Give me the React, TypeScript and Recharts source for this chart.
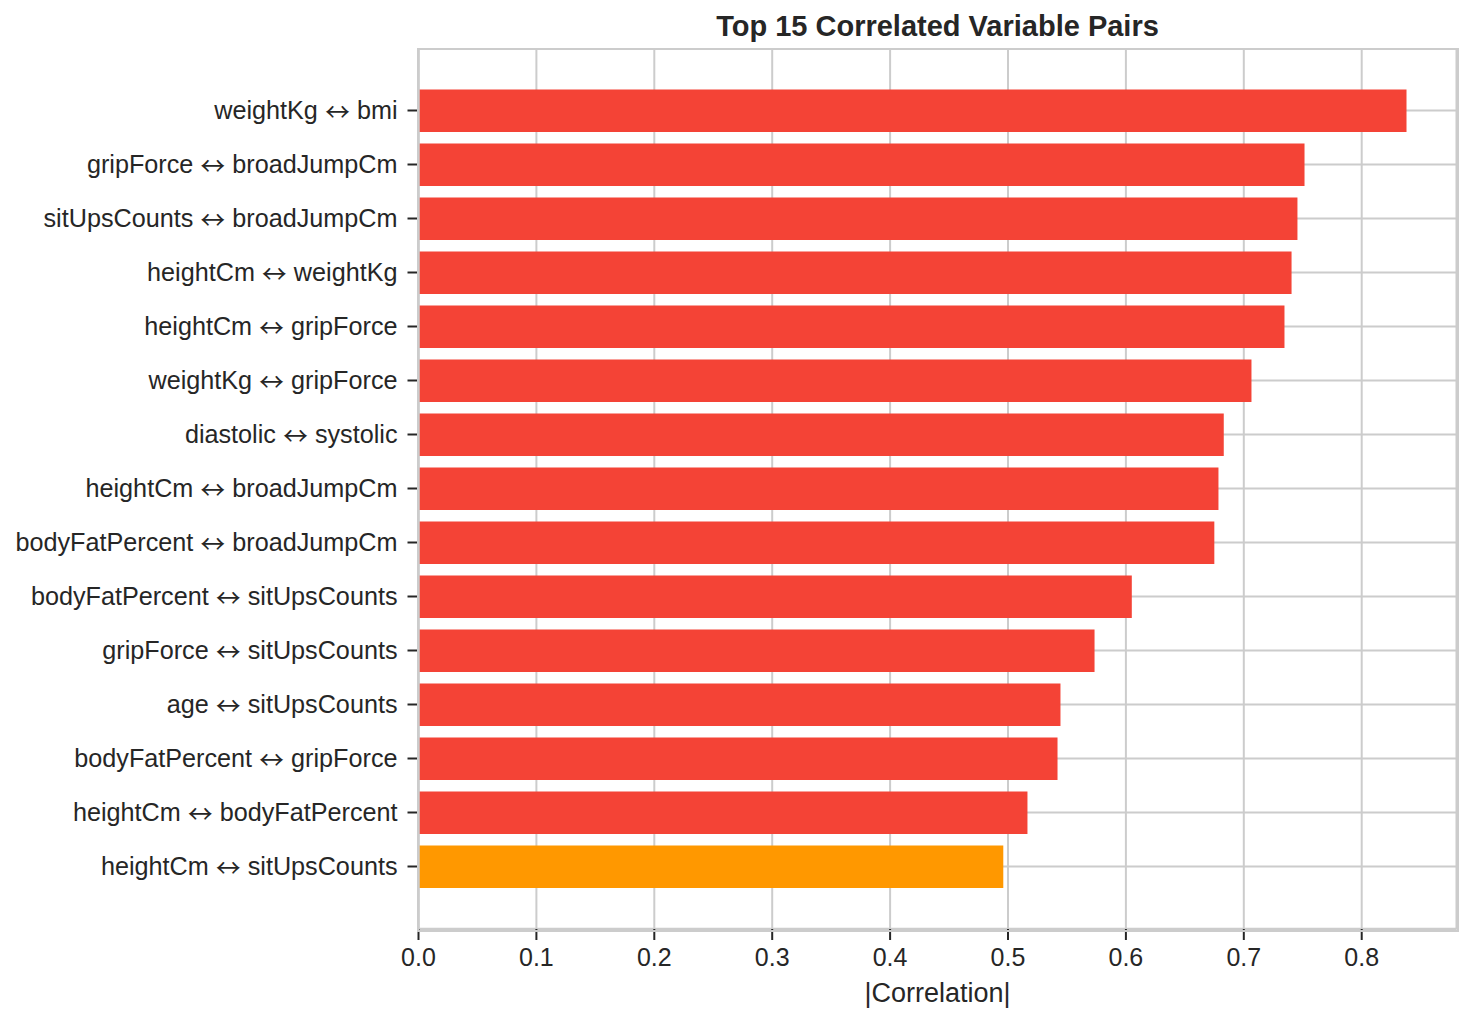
import React from 'react';
import { BarChart, Bar, XAxis, YAxis, CartesianGrid, Cell } from 'recharts';

const pairs = [
  'weightKg ↔ bmi',
  'gripForce ↔ broadJumpCm',
  'sitUpsCounts ↔ broadJumpCm',
  'heightCm ↔ weightKg',
  'heightCm ↔ gripForce',
  'weightKg ↔ gripForce',
  'diastolic ↔ systolic',
  'heightCm ↔ broadJumpCm',
  'bodyFatPercent ↔ broadJumpCm',
  'bodyFatPercent ↔ sitUpsCounts',
  'gripForce ↔ sitUpsCounts',
  'age ↔ sitUpsCounts',
  'bodyFatPercent ↔ gripForce',
  'heightCm ↔ bodyFatPercent',
  'heightCm ↔ sitUpsCounts',
];

const correlations = [
  0.838, 0.7515, 0.7455, 0.7405, 0.7345, 0.7065, 0.683, 0.6785, 0.675, 0.605,
  0.5734, 0.5445, 0.542, 0.5165, 0.496,
];

const xTicks = [0, 0.1, 0.2, 0.3, 0.4, 0.5, 0.6, 0.7, 0.8];
const xMax = 0.8804;

const strongColor = '#f44336';
const moderateColor = '#ff9800';

const data = pairs.map((name, i) => ({ name, value: correlations[i] }));

const FONT = '"Liberation Sans", Arial, "DejaVu Sans", sans-serif';
const ARROW_FONT = '"Noto Sans CJK SC", "DejaVu Sans", sans-serif';
const TEXT = '#262626';
const TICK_SIZE = 25.2;

const W = 1470;
const H = 1021;
const M = { top: 49, right: 13.5, bottom: 0, left: 0 };
const Y_W = 418.5;
const X_H = 92;

function PairTick(props: any) {
  const { x, y, payload } = props;
  const label: string = String(payload.value);
  const parts = label.split(' ↔ ');
  return (
    <text
      x={x}
      y={y}
      dy="0.355em"
      textAnchor="end"
      fill={TEXT}
      fontFamily={FONT}
      fontSize={TICK_SIZE}
      style={{ whiteSpace: 'pre' }}
    >
      {parts[0] + ' '}
      <tspan fontFamily={ARROW_FONT} fontSize={25} dy={2}>↔</tspan>
      <tspan dy={-2}>{' ' + (parts[1] ?? '')}</tspan>
    </text>
  );
}

export default function App() {
  return (
    <div style={{ position: 'absolute', left: 0, top: 0, width: W, height: H, background: '#fff' }}>
      <BarChart width={W} height={H} data={data} layout="vertical" margin={M}>
        <CartesianGrid stroke="#cccccc" strokeWidth={2} />
        <XAxis
          type="number"
          domain={[0, xMax]}
          allowDataOverflow
          ticks={xTicks}
          tickFormatter={(v: number) => v.toFixed(1)}
          height={X_H}
          axisLine={{ stroke: '#cccccc', strokeWidth: 2.5 }}
          tickLine={{ stroke: TEXT, strokeWidth: 2 }}
          tickSize={11}
          tickMargin={8}
          tick={{ fill: TEXT, fontSize: 25, fontFamily: FONT }}
          label={{
            value: '|Correlation|',
            position: 'insideBottom',
            offset: 19,
            fill: TEXT,
            fontSize: 27,
            fontFamily: FONT,
          }}
        />
        <YAxis
          type="category"
          dataKey="name"
          width={Y_W}
          padding={{ top: 34.5, bottom: 35.5 }}
          interval={0}
          axisLine={{ stroke: '#cccccc', strokeWidth: 2.5 }}
          tickLine={{ stroke: TEXT, strokeWidth: 2 }}
          tickSize={11}
          tickMargin={10}
          tick={<PairTick />}
        />
        <Bar dataKey="value" barSize={42.5} isAnimationActive={false}>
          {data.map((d, i) => (
            <Cell key={i} fill={d.value >= 0.5 ? strongColor : moderateColor} />
          ))}
        </Bar>
      </BarChart>
      <div
        style={{
          position: 'absolute',
          left: Y_W - 1.25,
          top: M.top - 1.25,
          width: W - M.right - Y_W,
          height: H - M.top - X_H,
          border: '2.5px solid #cccccc',
          pointerEvents: 'none',
        }}
      />
      <svg
        width={W}
        height={48}
        style={{ position: 'absolute', left: 0, top: 0, pointerEvents: 'none' }}
      >
        <text
          x={Y_W + (W - M.right - Y_W) / 2}
          y={36}
          textAnchor="middle"
          fontFamily={FONT}
          fontWeight="bold"
          fontSize={29}
          fill={TEXT}
        >
          Top 15 Correlated Variable Pairs
        </text>
      </svg>
    </div>
  );
}
